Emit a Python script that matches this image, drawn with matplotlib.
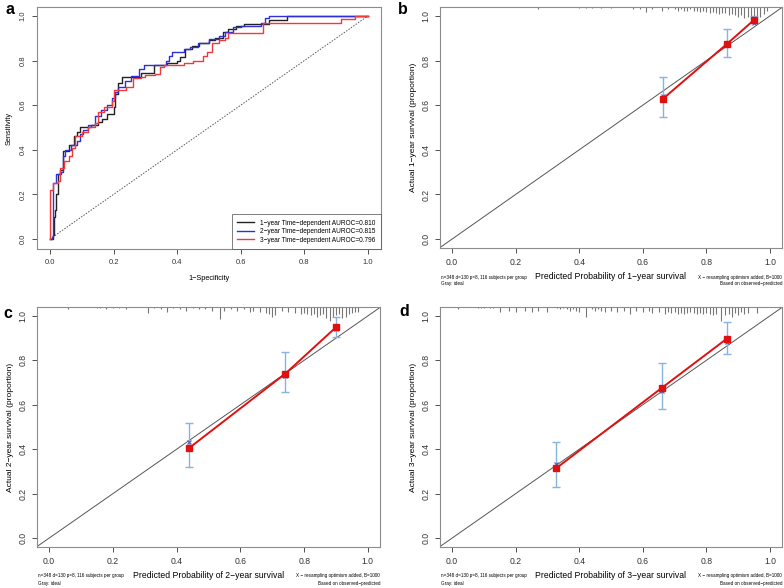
import numpy as np
import matplotlib
matplotlib.use('Agg')
import matplotlib.pyplot as plt

plt.rcParams['font.family'] = ['Liberation Sans', 'DejaVu Sans']

# ---- panel a: time-dependent ROC curves ----
fpr1 = [0.000, 0.008, 0.012, 0.016, 0.020, 0.026, 0.032, 0.040, 0.060, 0.075, 0.085, 0.095, 0.130,
        0.150, 0.165, 0.180, 0.200, 0.205, 0.215, 0.225, 0.265, 0.285, 0.327, 0.368, 0.400, 0.410,
        0.425, 0.445, 0.470, 0.500, 0.520, 0.545, 0.560, 0.585, 0.610, 0.690, 0.745, 1.000]
tpr1 = [0.000, 0.020, 0.100, 0.130, 0.200, 0.290, 0.310, 0.395, 0.420, 0.460, 0.480, 0.500, 0.510,
        0.525, 0.540, 0.560, 0.590, 0.650, 0.700, 0.726, 0.726, 0.745, 0.780, 0.790, 0.800, 0.815,
        0.850, 0.865, 0.880, 0.890, 0.900, 0.930, 0.940, 0.955, 0.965, 0.980, 1.000, 1.000]

fpr2 = [0.000, 0.006, 0.010, 0.020, 0.035, 0.040, 0.047, 0.065, 0.085, 0.095, 0.105, 0.120, 0.140,
        0.160, 0.180, 0.195, 0.205, 0.215, 0.235, 0.255, 0.280, 0.295, 0.345, 0.365, 0.375, 0.385,
        0.420, 0.440, 0.465, 0.500, 0.530, 0.550, 0.575, 0.600, 0.665, 0.675, 0.690, 1.000]
tpr2 = [0.000, 0.010, 0.250, 0.290, 0.300, 0.370, 0.400, 0.420, 0.440, 0.470, 0.490, 0.510, 0.550,
        0.580, 0.600, 0.630, 0.660, 0.680, 0.710, 0.730, 0.760, 0.780, 0.780, 0.800, 0.820, 0.840,
        0.850, 0.860, 0.880, 0.895, 0.910, 0.930, 0.950, 0.955, 0.970, 0.990, 1.000, 1.000]

fpr3 = [0.000, 0.000, 0.010, 0.025, 0.030, 0.040, 0.045, 0.060, 0.070, 0.080, 0.100, 0.120, 0.140,
        0.150, 0.170, 0.195, 0.200, 0.220, 0.240, 0.260, 0.285, 0.300, 0.330, 0.345, 0.360, 0.420,
        0.450, 0.480, 0.495, 0.510, 0.530, 0.550, 0.560, 0.670, 0.915, 0.960, 1.000]
tpr3 = [0.000, 0.220, 0.250, 0.260, 0.320, 0.320, 0.350, 0.370, 0.410, 0.460, 0.480, 0.500, 0.520,
        0.570, 0.590, 0.620, 0.670, 0.670, 0.680, 0.720, 0.725, 0.735, 0.740, 0.770, 0.780, 0.790,
        0.800, 0.820, 0.840, 0.880, 0.890, 0.900, 0.925, 0.970, 0.985, 1.000, 1.000]

roc_labels = ['1\u2212year Time\u2212dependent AUROC=0.810',
              '2\u2212year Time\u2212dependent AUROC=0.815',
              '3\u2212year Time\u2212dependent AUROC=0.796']

# ---- panels b-d: calibration ----
cal_years = [1, 2, 3]
cal_pred = [[0.663, 0.866, 0.950], [0.438, 0.741, 0.900], [0.328, 0.659, 0.864]]
cal_obs = [[0.628, 0.876, 0.982], [0.404, 0.740, 0.949], [0.315, 0.675, 0.897]]
cal_lo = [[0.546, 0.815, 0.967], [0.318, 0.658, 0.904], [0.228, 0.581, 0.828]]
cal_hi = [[0.725, 0.940, 1.000], [0.519, 0.836, 0.994], [0.434, 0.788, 0.972]]
cal_corr = [[0.640, 0.870, 0.970], [0.431, 0.728, 0.940], [0.334, 0.663, 0.882]]

# rug of predicted probabilities (position, length in px)
rug_b_x = [0.27, 0.40, 0.42, 0.44, 0.47, 0.50, 0.57, 0.59, 0.61, 0.63, 0.66, 0.68, 0.70, 0.71, 0.72,
           0.73, 0.74, 0.75, 0.76, 0.77, 0.78, 0.79, 0.80, 0.81, 0.82, 0.83, 0.84, 0.85, 0.86, 0.87,
           0.88, 0.89, 0.90, 0.91, 0.92, 0.93, 0.94, 0.95, 0.96, 0.97, 0.98, 0.99]
rug_b_h = [2, 1, 1, 1, 1, 1, 2, 2, 4, 2, 3, 2, 2, 3, 2, 3, 3, 2, 3, 3, 4, 3, 4, 5, 4, 5, 6, 5, 5, 7,
           6, 7, 8, 7, 9, 8, 10, 9, 10, 8, 6, 3]
rug_c_x = [0.06, 0.15, 0.16, 0.18, 0.20, 0.22, 0.24, 0.31, 0.33, 0.35, 0.37, 0.39, 0.41, 0.43, 0.45,
           0.47, 0.49, 0.51, 0.535, 0.55, 0.57, 0.59, 0.61, 0.63, 0.64, 0.66, 0.68, 0.69, 0.70, 0.71,
           0.73, 0.75, 0.77, 0.79, 0.80, 0.81, 0.82, 0.83, 0.84, 0.85, 0.86, 0.87, 0.88, 0.89, 0.90,
           0.91, 0.92, 0.93, 0.94, 0.95, 0.96, 0.97]
rug_c_h = [2, 1, 1, 2, 1, 1, 2, 5, 1, 2, 4, 1, 2, 3, 1, 2, 2, 3, 10, 3, 2, 3, 2, 4, 3, 4, 5, 6, 8, 7,
           3, 4, 5, 6, 5, 6, 7, 6, 8, 7, 6, 9, 12, 8, 7, 6, 9, 8, 6, 5, 4, 4]
rug_d_x = [0.02, 0.08, 0.09, 0.10, 0.12, 0.13, 0.15, 0.18, 0.20, 0.23, 0.25, 0.27, 0.30, 0.33, 0.34,
           0.35, 0.36, 0.37, 0.38, 0.39, 0.40, 0.42, 0.44, 0.45, 0.46, 0.47, 0.48, 0.50, 0.52, 0.54,
           0.56, 0.58, 0.60, 0.62, 0.63, 0.65, 0.67, 0.68, 0.69, 0.70, 0.71, 0.72, 0.73, 0.74, 0.75,
           0.76, 0.77, 0.78, 0.79, 0.80, 0.81, 0.82, 0.83, 0.845, 0.86, 0.87, 0.88, 0.89, 0.90, 0.91,
           0.92, 0.93, 0.96]
rug_d_h = [2, 1, 1, 1, 1, 1, 4, 3, 4, 3, 4, 3, 4, 1, 2, 1, 2, 3, 2, 3, 4, 8, 2, 3, 2, 3, 4, 3, 4, 3,
           6, 3, 4, 3, 5, 4, 6, 4, 5, 4, 6, 5, 6, 5, 4, 5, 6, 5, 6, 5, 6, 7, 6, 12, 7, 6, 8, 5, 7, 4,
           6, 5, 5]
rugs = [(rug_b_x, rug_b_h), (rug_c_x, rug_c_h), (rug_d_x, rug_d_h)]

W, H = 784, 588
BOX = '#8c8c8c'


def make_axes(fig, l, t, r, b):
    ax = fig.add_axes([l / W, 1 - b / H, (r - l) / W, (b - t) / H])
    for s in ax.spines.values():
        s.set_color(BOX)
        s.set_linewidth(0.8)
    ax.tick_params(colors='#333333', length=3.5, width=0.6, direction='out')
    return ax


def main():
    fig = plt.figure(figsize=(W / 100, H / 100), dpi=100)
    ticks = [0.0, 0.2, 0.4, 0.6, 0.8, 1.0]

    # panel a
    ax = make_axes(fig, 37, 7, 381, 249)
    ax.plot([0, 1], [0, 1], ls=(0, (1.5, 1.5)), color='#555555', lw=0.7)
    ax.plot(fpr1, tpr1, drawstyle='steps-post', color='#222222', lw=1.0, label=roc_labels[0])
    ax.plot(fpr2, tpr2, drawstyle='steps-post', color='#3030d8', lw=1.0, label=roc_labels[1])
    ax.plot(fpr3, tpr3, drawstyle='steps-post', color='#f03a3a', lw=1.0, label=roc_labels[2])
    ax.set_xlim(-0.041, 1.041)
    ax.set_ylim(-0.045, 1.04)
    ax.set_xticks(ticks)
    ax.set_yticks(ticks)
    ax.set_xticklabels([f'{t:.1f}' for t in ticks], fontsize=5.5)
    ax.set_yticklabels([f'{t:.1f}' for t in ticks], fontsize=5.5, rotation=90, va='center')
    ax.tick_params(pad=4)
    ax.set_xlabel('1\u2212Specificity', fontsize=5.3, labelpad=6)
    ax.set_ylabel('Sensitivity', fontsize=5.3, labelpad=5)
    leg = ax.legend(loc='lower right', fontsize=4.7, borderaxespad=0, fancybox=False,
                    handlelength=2.6, borderpad=0.8, labelspacing=0.25, handletextpad=1.0)
    leg.get_frame().set_edgecolor('#444444')
    leg.get_frame().set_linewidth(0.6)
    fig.text(6 / W, 1 - 10 / H, 'a', fontsize=11.5, fontweight='bold', va='center')

    # panels b-d
    boxes = [(440, 7, 782, 248), (37, 307, 380, 547), (440, 307, 782, 547)]
    letters = ['b', 'c', 'd']
    letter_pos = [(398, 10), (3, 313), (399, 312)]
    for i in range(3):
        l, t, r, b = boxes[i]
        ax = make_axes(fig, l, t, r, b)
        ax.set_xlim(-0.038, 1.038)
        ax.set_ylim(-0.04, 1.04)
        ax.axline((0, 0), (1, 1), color='#555555', lw=0.7)
        rx, rh = rugs[i]
        ax.vlines(rx, [1 - 1.2 * h / (b - t) for h in rh], 1.0, color='#777777', lw=0.8,
                  transform=ax.get_xaxis_transform())
        pred = np.array(cal_pred[i])
        obs = np.array(cal_obs[i])
        ax.errorbar(pred, obs, yerr=[obs - np.array(cal_lo[i]), np.array(cal_hi[i]) - obs],
                    fmt='none', ecolor='#86b4dc', elinewidth=1.0, capsize=3, capthick=1.0)
        ax.plot(pred, obs, color='#e01010', lw=1.4, marker='s', markersize=4.2, zorder=4)
        ax.plot(pred, cal_corr[i], ls='none', marker='x', color='#4a5ad0', markersize=3,
                mew=0.8, zorder=3)
        ax.set_xticks(ticks)
        ax.set_yticks(ticks)
        ax.set_xticklabels([f'{t:.1f}' for t in ticks], fontsize=6.2)
        ax.set_yticklabels([f'{t:.1f}' for t in ticks], fontsize=6.2, rotation=90, va='center')
        ax.set_xlabel(f'Predicted Probability of {cal_years[i]}\u2212year survival',
                      fontsize=6.2, labelpad=4)
        ax.set_ylabel(f'Actual {cal_years[i]}\u2212year survival (proportion)', fontsize=6,
                      labelpad=3)
        fig.text((l + 1) / W, 1 - (b + 29) / H, 'n=348 d=130 p=8, 116 subjects per group',
                 fontsize=3.3, va='center')
        fig.text((l + 1) / W, 1 - (b + 36) / H, 'Gray: ideal', fontsize=3.3, va='center')
        fig.text(r / W, 1 - (b + 29) / H, 'X \u2212 resampling optimism added, B=1000',
                 fontsize=3.3, va='center', ha='right')
        fig.text(r / W, 1 - (b + 36) / H, 'Based on observed\u2212predicted',
                 fontsize=3.3, va='center', ha='right')
        lx, ly = letter_pos[i]
        fig.text(lx / W, 1 - ly / H, letters[i], fontsize=11.5, fontweight='bold',
                 va='center')

    fig.savefig('out.png', dpi=100)


if __name__ == '__main__':
    main()
